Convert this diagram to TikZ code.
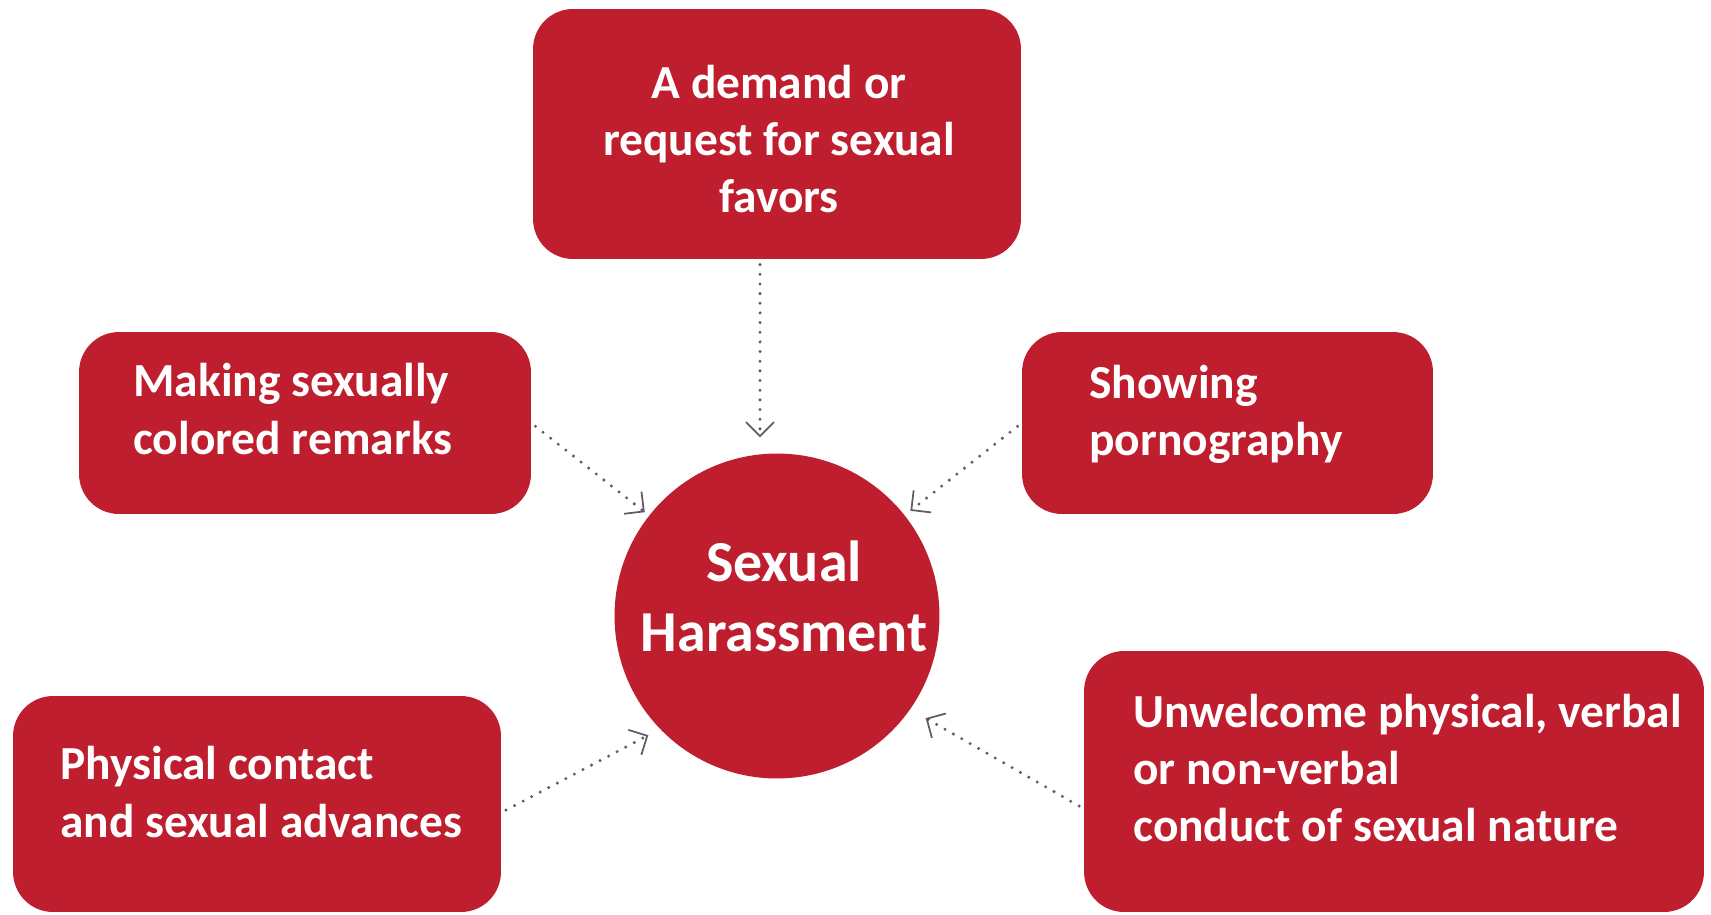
\documentclass[tikz,border=0pt]{standalone}
\usepackage{fontspec}
\setmainfont{Carlito}
\usetikzlibrary{arrows.meta}
\definecolor{harred}{RGB}{190,30,45}
\definecolor{dotgray}{RGB}{100,90,100}

\begin{document}
\begin{tikzpicture}[x=0.02cm, y=-0.02cm]
\tikzstyle{box} = [rectangle, rounded corners=0.8cm, fill=harred, inner sep=0pt]
\tikzstyle{txt} = [text=white, font=\fontsize{27}{32.5}\selectfont\bfseries, align=left, anchor=west, inner sep=0pt]
\tikzstyle{link} = [dotgray, line width=1.9pt, line cap=round, dash pattern=on 0pt off 5.5pt, -{Straight Barb[length=8pt, width=16pt, line width=1pt]}]
\useasboundingbox (0,0) rectangle (1711,914);
% boxes round the centre
\node[box, minimum width=9.76cm, minimum height=5cm] (demand) at (777,134) {};
\node[box, minimum width=9.04cm, minimum height=3.64cm] (remarks) at (305,423) {};
\node[box, minimum width=8.22cm, minimum height=3.64cm] (porno) at (1227.5,423) {};
\node[box, minimum width=9.76cm, minimum height=4.32cm] (contact) at (257,804) {};
\node[box, minimum width=12.4cm, minimum height=5.22cm] (conduct) at (1394,781.5) {};
\node[circle, fill=harred, minimum size=6.5cm, inner sep=0pt] (hub) at (777,616) {};
% texts
\node[txt, align=center, anchor=center] (demandtxt) at (779,139) {A demand or\\request for sexual\\favors};
\node[txt] (remarkstxt) at (133,409) {Making sexually\\colored remarks};
\node[txt] (pornotxt) at (1089,414) {Showing\\pornography};
\node[txt] (contacttxt) at (60,792) {Physical contact\\and sexual advances};
\node[txt] (conducttxt) at (1133,768) {Unwelcome physical, verbal\\or non-verbal\\conduct of sexual nature};
\node[txt, font=\fontsize{33}{40}\selectfont\bfseries, align=center, anchor=center] (hubtxt) at (784,596) {Sexual\\Harassment};
% arrows
\draw[link, shorten <=3pt, shorten >=9pt] ([xshift=-0.34cm]demand.south) -- ([xshift=-0.34cm]demand.south |- hub.north);
\foreach \from/\to/\gap in {remarks.east/hub/3pt, porno.west/hub/4pt, contact.358/hub.224/7.4pt, conduct.185/hub.325/10pt}
\draw[link, shorten <=3pt, shorten >=\gap] (\from) -- (\to);
\end{tikzpicture}
\end{document}
